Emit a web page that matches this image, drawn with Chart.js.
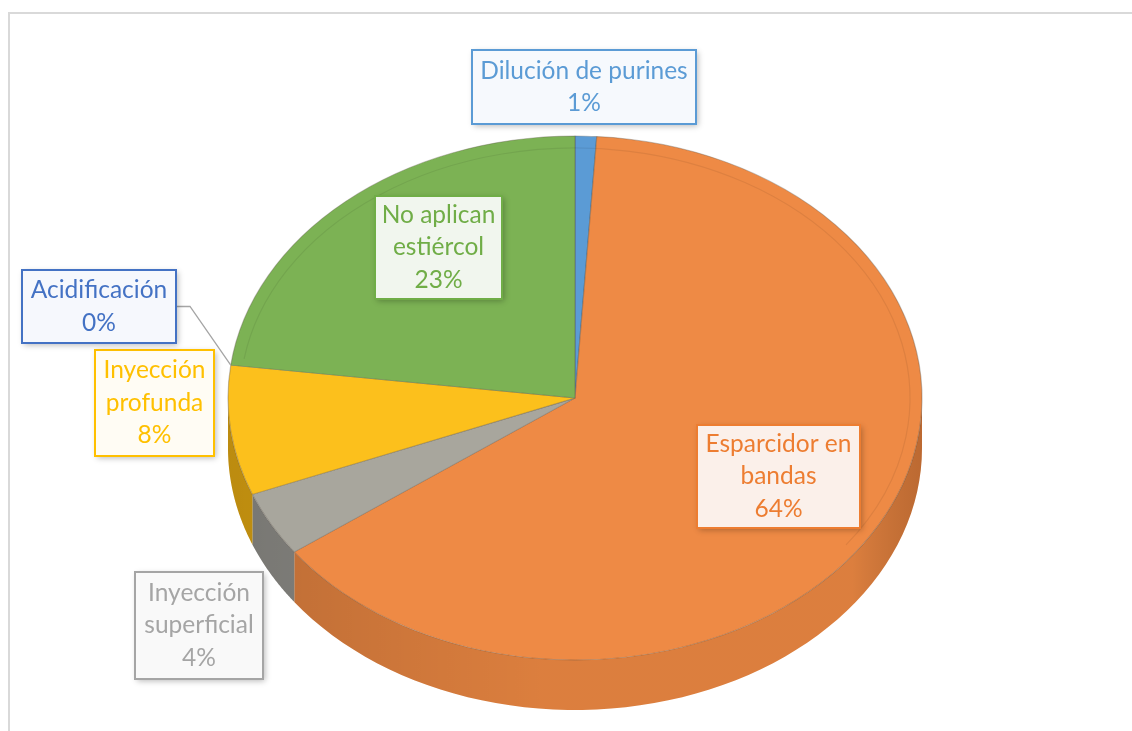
<!DOCTYPE html>
<html lang="es">
<head>
<meta charset="UTF-8">
<title>Métodos de aplicación de estiércol</title>
<script src="https://cdn.jsdelivr.net/npm/chart.js@4"></script>
<style>
  body { margin: 0; background: #fff; }
  #wrap { position: relative; width: 1132px; height: 731px; }
</style>
</head>
<body>
<div id="wrap"><canvas id="grafica"></canvas></div>
<script>
// datos
const categorias = ['Dilución de purines', 'Esparcidor en bandas', 'Inyección superficial', 'Inyección profunda', 'Acidificación', 'No aplican estiércol'];
const porcentajes = [1, 64, 4, 8, 0, 23];

// estilos
const colores = ['#5B9BD5', '#EE8A45', '#A8A69D', '#FCC01C', '#4472C4', '#7CB254'];
const coloresLado = ['#4A86BE', '#E0813F', '#8E8D88', '#E0A612', '#3A62A8', '#68983F'];
const coloresTexto = ['#5B9BD5', '#ED7D31', '#A5A5A5', '#FFC000', '#4472C4', '#70AD47'];
const fondosEtiqueta = ['#F6F9FD', '#FBF0EA', '#F9F9F9', '#FFFCF4', '#F6F8FD', '#F1F6EE'];
// cajas de etiquetas: [x, y, ancho, alto]
const cajas = [[472, 50, 224, 74], [697, 425, 163, 103], [135, 572, 128, 107], [95, 350, 119, 106], [22, 270, 154, 73], [375, 196, 127, 103]];
const lineasGuia = [4];

// geometría del pastel en pantalla
const centro = { x: 575, y: 398 };
const rx = 347, ry = 262, profundidad = 50;

function puntoElipse(a, dy) {
    return [centro.x + rx * Math.cos(a), centro.y + ry * Math.sin(a) + (dy || 0)];
}

const pastel3d = {
    id: 'pastel3d',
    beforeDraw(chart) {
        const ctx = chart.ctx;
        ctx.save();
        ctx.fillStyle = '#fff';
        ctx.fillRect(0, 0, chart.width, chart.height);
        ctx.strokeStyle = '#D9D9D9';
        ctx.lineWidth = 2;
        ctx.strokeRect(9, 13, 1400, 1000);
        ctx.restore();
    },
    beforeDatasetsDraw(chart) {
        const ctx = chart.ctx;
        const meta = chart.getDatasetMeta(0);
        // lados del cilindro (solo la mitad frontal)
        meta.data.forEach((arc, i) => {
            const a1 = Math.max(arc.startAngle, 0);
            const a2 = Math.min(arc.endAngle, Math.PI);
            if (a2 <= a1) return;
            ctx.save();
            ctx.beginPath();
            const pasos = 60;
            for (let k = 0; k <= pasos; k++) {
                const p = puntoElipse(a1 + (a2 - a1) * k / pasos, 0);
                k === 0 ? ctx.moveTo(p[0], p[1]) : ctx.lineTo(p[0], p[1]);
            }
            for (let k = pasos; k >= 0; k--) {
                const p = puntoElipse(a1 + (a2 - a1) * k / pasos, profundidad);
                ctx.lineTo(p[0], p[1]);
            }
            ctx.closePath();
            ctx.fillStyle = coloresLado[i];
            ctx.fill();
            const g = ctx.createLinearGradient(centro.x - rx, 0, centro.x + rx, 0);
            g.addColorStop(0, 'rgba(0,0,0,0.16)');
            g.addColorStop(0.45, 'rgba(0,0,0,0.02)');
            g.addColorStop(0.9, 'rgba(0,0,0,0.02)');
            g.addColorStop(1, 'rgba(60,20,0,0.22)');
            ctx.fillStyle = g;
            ctx.fill();
            ctx.restore();
        });
        // cara superior: escalar el pastel de Chart.js a una elipse
        const a0 = meta.data[0];
        const R = a0.outerRadius;
        ctx.save();
        ctx.translate(centro.x, centro.y);
        ctx.scale(rx / R, ry / R);
        ctx.translate(-a0.x, -a0.y);
    },
    afterDatasetsDraw(chart) {
        const ctx = chart.ctx;
        ctx.restore();
        // bisel interior tenue
        ctx.save();
        ctx.beginPath();
        ctx.ellipse(centro.x, centro.y, rx - 12, ry - 12, 0, Math.PI * 1.05, Math.PI * 2.2);
        ctx.strokeStyle = 'rgba(0,0,0,0.07)';
        ctx.lineWidth = 1.2;
        ctx.stroke();
        ctx.restore();
    },
    afterDraw(chart) {
        const ctx = chart.ctx;
        const meta = chart.getDatasetMeta(0);
        ctx.save();
        ctx.font = '24.5px Lato';
        ctx.textAlign = 'center';
        ctx.textBaseline = 'middle';
        porcentajes.forEach((v, i) => {
            const [x, y, w, h] = cajas[i];
            // línea guía
            if (lineasGuia.includes(i)) {
                const arc = meta.data[i];
                const p = puntoElipse(arc.startAngle, 0);
                ctx.beginPath();
                ctx.moveTo(x + w, y + h / 2);
                ctx.lineTo(x + w + 14, y + h / 2);
                ctx.lineTo(p[0], p[1]);
                ctx.strokeStyle = '#A5A5A5';
                ctx.lineWidth = 1.3;
                ctx.stroke();
            }
            // caja
            ctx.save();
            ctx.shadowColor = 'rgba(0,0,0,0.28)';
            ctx.shadowBlur = 6;
            ctx.shadowOffsetX = 2;
            ctx.shadowOffsetY = 2;
            ctx.fillStyle = fondosEtiqueta[i];
            ctx.fillRect(x, y, w, h);
            ctx.restore();
            ctx.strokeStyle = coloresTexto[i];
            ctx.lineWidth = 2;
            ctx.strokeRect(x, y, w, h);
            // texto
            const palabras = categorias[i].split(' ');
            const lineas = [];
            let actual = '';
            palabras.forEach(p => {
                const prueba = actual ? actual + ' ' + p : p;
                if (ctx.measureText(prueba).width > w - 6 && actual) {
                    lineas.push(actual);
                    actual = p;
                } else {
                    actual = prueba;
                }
            });
            lineas.push(actual);
            lineas.push(Math.round(v) + '%');
            const alto = 32.5;
            const y0 = y + h / 2 - (lineas.length - 1) * alto / 2;
            ctx.fillStyle = coloresTexto[i];
            lineas.forEach((t, k) => ctx.fillText(t, x + w / 2, y0 + k * alto));
        });
        ctx.restore();
    }
};

new Chart(document.getElementById('grafica'), {
    type: 'pie',
    data: {
        labels: categorias,
        datasets: [{
            data: porcentajes,
            backgroundColor: colores,
            borderColor: 'rgba(90,80,70,0.35)',
            borderWidth: 1.2
        }]
    },
    options: {
        responsive: true,
        maintainAspectRatio: false,
        animation: false,
        layout: { padding: { top: 15, bottom: 15 } },
        plugins: {
            legend: { display: false },
            tooltip: { enabled: false }
        }
    },
    plugins: [pastel3d]
});
</script>
</body>
</html>
